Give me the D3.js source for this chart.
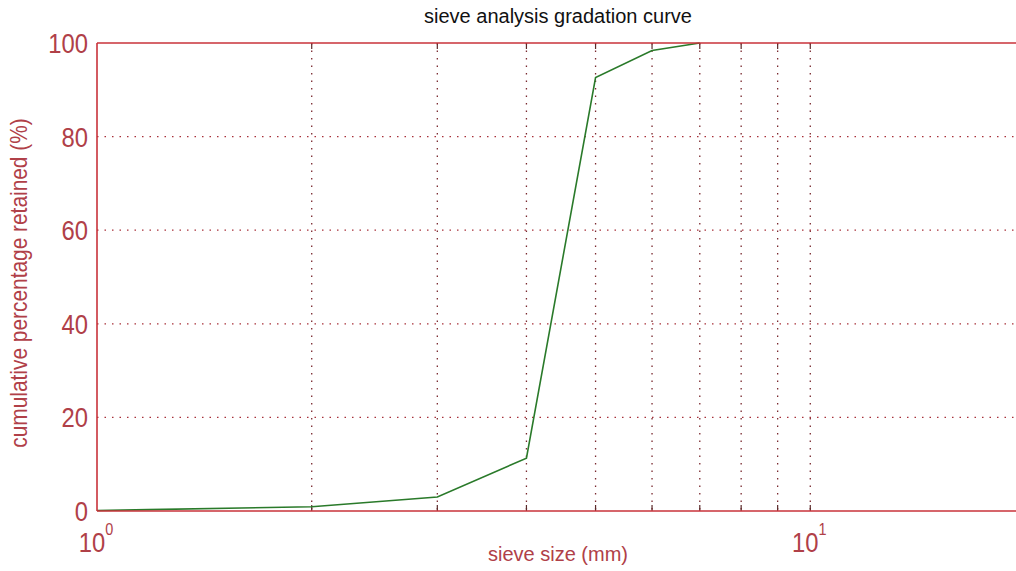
<!DOCTYPE html>
<html>
<head>
<meta charset="utf-8">
<script src="https://cdn.jsdelivr.net/npm/d3@7"></script>
<style>
body { margin: 0; background: #fff; }
svg { display: block; font-family: "Liberation Sans", Arial, sans-serif; }
</style>
</head>
<body>
<svg width="1016" height="571"></svg>
<script>
// sieve sizes (mm) and cumulative % retained
var sieveSize = [1, 1.18, 2, 3, 4, 5, 6, 7];
var retained = [0.1, 0.3, 0.9, 3.0, 11.3, 92.6, 98.4, 100];
var yTicks = [0, 20, 40, 60, 80, 100];
var xMinor = [2, 3, 4, 5, 6, 7, 8, 9, 10];
var xMajor = [1, 10];

var red = "#c8323a";
var labelColor = "#b04048";
var svg = d3.select("svg");
var mLeft = 97, mTop = 43, mBottom = 511, mRight = 1025;

var x = d3.scaleLog().domain([1, 20]).range([mLeft, mRight]);
var y = d3.scaleLinear().domain([0, 100]).range([mBottom, mTop]);

var g = svg.append("g");

// grid
g.selectAll(".vgrid")
.data(xMinor)
.enter()
.append("line")
.attr("x1", d => x(d)).attr("x2", d => x(d))
.attr("y1", mTop).attr("y2", mBottom)
.attr("stroke", "#7a2a30")
.attr("stroke-width", 1.3)
.attr("stroke-dasharray", "1.5,6");

g.selectAll(".hgrid")
.data(yTicks.filter(d => d > 0 && d < 100))
.enter()
.append("line")
.attr("x1", mLeft).attr("x2", mRight)
.attr("y1", d => y(d)).attr("y2", d => y(d))
.attr("stroke", "#a8303a")
.attr("stroke-width", 1.3)
.attr("stroke-dasharray", "1.5,6");

// ticks (inward)
g.selectAll(".xtb")
.data(xMinor)
.enter()
.append("line")
.attr("x1", d => x(d)).attr("x2", d => x(d))
.attr("y1", mBottom).attr("y2", mBottom - 6)
.attr("stroke", "#5a2a2a").attr("stroke-width", 1.2);

g.selectAll(".xtt")
.data(xMinor)
.enter()
.append("line")
.attr("x1", d => x(d)).attr("x2", d => x(d))
.attr("y1", mTop).attr("y2", mTop + 6)
.attr("stroke", "#5a2a2a").attr("stroke-width", 1.2);

// data line
var line = d3.line()
.x((d, i) => x(sieveSize[i]))
.y(d => y(d));

g.append("path")
.datum(retained)
.attr("fill", "none")
.attr("stroke", "#2a7a2a")
.attr("stroke-width", 1.6)
.attr("d", line);

// axes box
g.append("line").attr("x1", mLeft).attr("x2", mRight).attr("y1", mBottom).attr("y2", mBottom)
.attr("stroke", red).attr("stroke-width", 1.6);
g.append("line").attr("x1", mLeft).attr("x2", mRight).attr("y1", mTop).attr("y2", mTop)
.attr("stroke", red).attr("stroke-width", 1.6);
g.append("line").attr("x1", mLeft).attr("x2", mLeft).attr("y1", mTop).attr("y2", mBottom)
.attr("stroke", red).attr("stroke-width", 1.6);

// y tick labels (squeezed horizontally like the original)
g.selectAll(".ylab")
.data(yTicks)
.enter()
.append("text")
.attr("transform", d => "translate(" + (mLeft - 9) + "," + (y(d) + 10) + ") scale(0.85,1)")
.attr("text-anchor", "end")
.attr("fill", labelColor)
.attr("font-size", 28)
.text(d => d);

// x tick labels 10^n
xMajor.forEach(function(v) {
  var t = g.append("text")
  .attr("transform", "translate(" + (x(v) - 1) + ",552) scale(0.85,1)")
  .attr("text-anchor", "middle")
  .attr("fill", labelColor)
  .attr("font-size", 28);
  t.append("tspan").text("10");
  t.append("tspan").attr("dy", -17).attr("font-size", 17).text(Math.round(Math.log10(v)));
});

// title and axis labels
svg.append("text")
.attr("x", 558).attr("y", 23)
.attr("text-anchor", "middle")
.attr("fill", "#111")
.attr("font-size", 20)
.text("sieve analysis gradation curve");

svg.append("text")
.attr("x", 558).attr("y", 561)
.attr("text-anchor", "middle")
.attr("fill", labelColor)
.attr("font-size", 20)
.text("sieve size (mm)");

svg.append("text")
.attr("transform", "translate(27,283) rotate(-90) scale(0.87,1)")
.attr("text-anchor", "middle")
.attr("fill", labelColor)
.attr("font-size", 24)
.text("cumulative percentage retained (%)");
</script>
</body>
</html>
